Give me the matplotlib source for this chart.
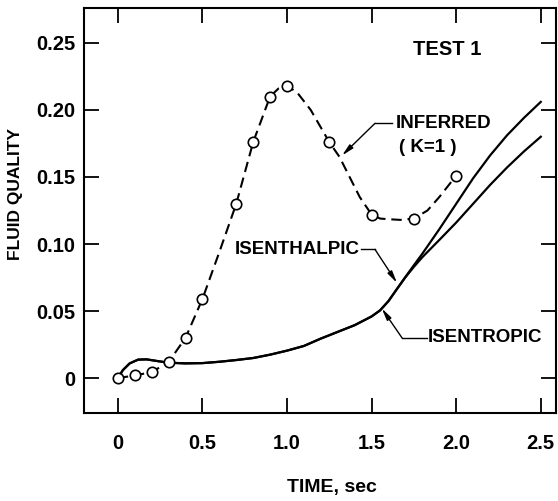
"""
Fluid quality vs time, Test 1: inferred (K=1) points with isenthalpic
and isentropic predictions.
"""

import matplotlib
matplotlib.use("Agg")
import matplotlib.pyplot as plt

plt.rcParams["font.family"] = ["Liberation Sans", "DejaVu Sans"]
plt.rcParams["font.weight"] = "bold"
plt.rcParams["axes.labelweight"] = "bold"

# inferred quality, circles
inferred_t = [0.0, 0.1, 0.2, 0.3, 0.4, 0.5, 0.7, 0.8, 0.9, 1.0, 1.25, 1.5, 1.75, 2.0]
inferred_q = [0.0, 0.002, 0.0045, 0.012, 0.030, 0.059, 0.130, 0.176, 0.210, 0.218,
              0.176, 0.122, 0.119, 0.151]

# the dashed fairing through those circles
fair_t = [0.0, 0.1, 0.2, 0.3, 0.4, 0.5, 0.6, 0.7, 0.8, 0.9, 0.95, 1.0, 1.06, 1.14,
          1.25, 1.31, 1.43, 1.5, 1.55, 1.6, 1.67, 1.75, 1.83, 1.9, 2.0]
fair_q = [0.0, 0.002, 0.0045, 0.012, 0.030, 0.059, 0.094, 0.130, 0.176, 0.210, 0.216,
          0.218, 0.213, 0.200, 0.176, 0.165, 0.135, 0.122, 0.119, 0.1185, 0.118, 0.119,
          0.125, 0.135, 0.151]

# predicted curves
calc_t = [0.0, 0.03, 0.07, 0.12, 0.17, 0.23, 0.3, 0.4, 0.5, 0.6, 0.7, 0.8, 0.9, 1.0,
          1.1, 1.2, 1.3, 1.4, 1.5, 1.55, 1.6, 1.65, 1.7, 1.75, 1.8, 1.9, 2.0, 2.1, 2.2,
          2.3, 2.4, 2.5]
isenthalpic_q = [0.0, 0.006, 0.011, 0.0138, 0.014, 0.0128, 0.0115, 0.011, 0.0112, 0.0122,
                 0.0135, 0.015, 0.0175, 0.0205, 0.024, 0.0295, 0.0345, 0.0395, 0.046,
                 0.0505, 0.0575, 0.0665, 0.0755, 0.0842, 0.0928, 0.111, 0.130, 0.149,
                 0.166, 0.181, 0.194, 0.206]
isentropic_q = [0.0, 0.006, 0.011, 0.0138, 0.014, 0.0128, 0.0115, 0.011, 0.0112, 0.0122,
                0.0135, 0.015, 0.0175, 0.0205, 0.024, 0.0295, 0.0345, 0.0395, 0.046,
                0.0505, 0.0575, 0.0665, 0.0752, 0.0830, 0.0902, 0.103, 0.116, 0.130,
                0.144, 0.157, 0.169, 0.180]

x_ticks = [0, 0.5, 1.0, 1.5, 2.0, 2.5]
x_labels = ["0", "0.5", "1.0", "1.5", "2.0", "2.5"]
y_ticks = [0, 0.05, 0.10, 0.15, 0.20, 0.25]
y_labels = ["0", "0.05", "0.10", "0.15", "0.20", "0.25"]

W, H = 558, 501
fig = plt.figure(figsize=(W / 100, H / 100), dpi=100)
ax = fig.add_axes([84 / W, 1 - 413 / H, (556 - 84) / W, (413 - 8) / H])

ax.plot(calc_t, isenthalpic_q, color="black", lw=1.6)
ax.plot(calc_t, isentropic_q, color="black", lw=1.6)
ax.plot(fair_t, fair_q, color="black", lw=1.5, dashes=(5, 2.8))
ax.plot(inferred_t, inferred_q, ls="none", marker="o", ms=7.5, mfc="white",
        mec="black", mew=1.2, zorder=5)

ax.set_xlim(-0.2, 2.59)
ax.set_ylim(-0.026, 0.276)
ax.set_xticks(x_ticks, x_labels)
ax.set_yticks(y_ticks, y_labels)
ax.tick_params(direction="in", length=11, width=1.3, top=True, right=True,
               labelsize=14.5)
ax.tick_params(axis="x", pad=15)
ax.tick_params(axis="y", pad=6)
for s in ax.spines.values():
    s.set_linewidth(1.5)

ax.set_xlabel("TIME, sec", fontsize=14, va="center")
ax.xaxis.set_label_coords(0.525, -0.183)
ax.set_ylabel("FLUID QUALITY", fontsize=12.5, va="center")
ax.yaxis.set_label_coords(-0.146, 0.54)

txt = dict(fontsize=13.5, fontweight="bold")
arrow = dict(arrowstyle="-|>,head_length=0.7,head_width=0.15", color="black",
             lw=1, shrinkA=0, shrinkB=0)

ax.text(1.947, 0.245, "TEST 1", ha="center", va="center", fontsize=14.5)

# inferred label and leader
ax.text(1.64, 0.190, "INFERRED", ha="left", va="center", **txt)
ax.text(1.83, 0.172, "( K=1 )", ha="center", va="center", **txt)
ax.plot([1.52, 1.62], [0.190, 0.190], color="black", lw=1)
ax.annotate("", xy=(1.325, 0.166), xytext=(1.52, 0.190), arrowprops=arrow)

# isenthalpic label and leader
ax.text(1.43, 0.096, "ISENTHALPIC", ha="right", va="center", **txt)
ax.plot([1.44, 1.52], [0.096, 0.096], color="black", lw=1)
ax.annotate("", xy=(1.65, 0.071), xytext=(1.52, 0.096), arrowprops=arrow)

# isentropic label and leader
ax.text(1.83, 0.030, "ISENTROPIC", ha="left", va="center", **txt)
ax.plot([1.68, 1.83], [0.030, 0.030], color="black", lw=1)
ax.annotate("", xy=(1.56, 0.052), xytext=(1.68, 0.030), arrowprops=arrow)

fig.savefig("out.png", dpi=100, facecolor="white")
